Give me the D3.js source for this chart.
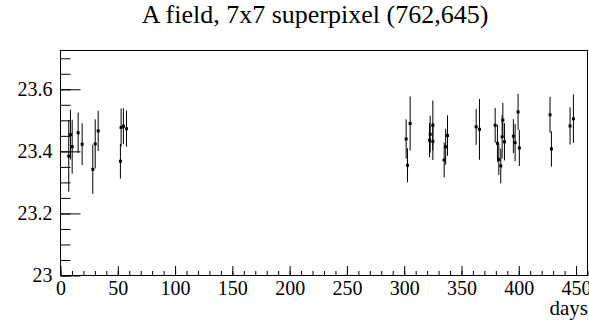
<!DOCTYPE html>
<html>
<head>
<meta charset="utf-8">
<script src="https://cdn.jsdelivr.net/npm/d3@7"></script>
<style>
  body { margin: 0; background: #fff; }
  text { font-family: "Liberation Serif", "Times New Roman", serif; fill: #000; }
</style>
</head>
<body>
<div id="chart"></div>
<script>
/* light curve, 7x7 superpixel */

const width = 589,
    height = 322,
    margin = ({ top: 50.5, right: 1.5, bottom: 46.5, left: 60.5 });

// days of each measurement
const days = [7.2, 8.7, 10.2, 15.4, 18.9, 28.2, 30.3, 32.9,
    52.3, 52.9, 54.9, 57.6,
    301.7, 302.9, 305.2, 322.1, 322.7, 325.0, 325.0,
    334.9, 336.2, 337.8, 362.8, 365.7,
    379.4, 381.4, 382.6, 384.3, 385.5, 386.1, 387.5,
    395.3, 396.8, 399.4, 400.5,
    427.3, 428.5, 444.8, 447.7];

// measured value
const values = [23.385, 23.454, 23.415, 23.460, 23.423, 23.342, 23.424, 23.466,
    23.368, 23.477, 23.481, 23.473,
    23.440, 23.355, 23.490, 23.436, 23.455, 23.484, 23.432,
    23.372, 23.415, 23.451, 23.479, 23.471,
    23.484, 23.426, 23.374, 23.353, 23.447, 23.501, 23.431,
    23.449, 23.428, 23.527, 23.411,
    23.518, 23.408, 23.482, 23.505];

// error bar half length
const errors = [0.115, 0.080, 0.087, 0.065, 0.067, 0.079, 0.079, 0.065,
    0.056, 0.061, 0.058, 0.058,
    0.063, 0.055, 0.087, 0.055, 0.060, 0.080, 0.060,
    0.056, 0.058, 0.065, 0.058, 0.098,
    0.056, 0.060, 0.050, 0.056, 0.070, 0.055, 0.060,
    0.055, 0.060, 0.058, 0.058,
    0.058, 0.057, 0.060, 0.078];

const xTicks = [0, 50, 100, 150, 200, 250, 300, 350, 400, 450];
const yTicks = [23, 23.2, 23.4, 23.6];

const title = "A field, 7x7 superpixel (762,645)",
    xLabel = "days";

const serif = '"Liberation Serif", "Times New Roman", serif';

const data = days.map((d, i) => ({ day: d, val: values[i], err: errors[i] }));

const svg = d3.select("#chart")
    .append("svg")
    .attr("width", width)
    .attr("height", height);

let x = d3.scaleLinear()
    .domain([0, 460])
    .range([margin.left, width - margin.right]);

let y = d3.scaleLinear()
    .domain([23, 23.725])
    .range([height - margin.bottom, margin.top]);

// frame
svg.append("rect")
    .attr("x", margin.left)
    .attr("y", margin.top)
    .attr("width", width - margin.right - margin.left)
    .attr("height", height - margin.bottom - margin.top)
    .attr("fill", "none")
    .attr("stroke", "#000");

// x axis, ticks pointing up into the frame
svg.append("g")
    .attr("transform", `translate(0,${height - margin.bottom})`)
    .call(d3.axisBottom(x).tickValues(d3.range(0, 461, 10)).tickSizeInner(-4.5).tickSizeOuter(0).tickFormat(""))
    .call(g => g.select(".domain").remove());

svg.append("g")
    .attr("transform", `translate(0,${height - margin.bottom})`)
    .call(d3.axisBottom(x).tickValues(xTicks).tickSizeInner(-9.5).tickSizeOuter(0).tickPadding(5))
    .call(g => g.select(".domain").remove())
    .call(g => g.selectAll("text").style("font-size", "20px").style("font-family", serif));

// y axis, ticks pointing right into the frame
svg.append("g")
    .attr("transform", `translate(${margin.left},0)`)
    .call(d3.axisLeft(y).tickValues(d3.range(0, 15).map(i => 23 + i * 0.05)).tickSizeInner(-10).tickSizeOuter(0).tickFormat(""))
    .call(g => g.select(".domain").remove());

svg.append("g")
    .attr("transform", `translate(${margin.left},0)`)
    .call(d3.axisLeft(y).tickValues(yTicks).tickSizeInner(-20).tickSizeOuter(0).tickPadding(8)
        .tickFormat(d => d === 23 ? "23" : d3.format(".1f")(d)))
    .call(g => g.select(".domain").remove())
    .call(g => g.selectAll("text").style("font-size", "20px").style("font-family", serif));

svg.selectAll(".tick line").attr("stroke", "#000");

// title
svg.append("text")
    .attr("x", 315)
    .attr("y", 23)
    .attr("text-anchor", "middle")
    .style("font-size", "26px")
    .style("font-family", serif)
    .text(title);

// x label
svg.append("text")
    .attr("x", width - 1)
    .attr("y", 315)
    .attr("text-anchor", "end")
    .style("font-size", "21px")
    .style("font-family", serif)
    .text(xLabel);

// error bars
svg.selectAll(".err")
    .data(data)
    .enter().append("line")
      .attr("class", "err")
      .attr("x1", d => x(d.day))
      .attr("x2", d => x(d.day))
      .attr("y1", d => y(d.val - d.err))
      .attr("y2", d => y(d.val + d.err))
      .attr("stroke", "#000")
      .attr("stroke-width", 1);

// points
svg.selectAll(".dot")
    .data(data)
    .enter().append("rect")
      .attr("class", "dot")
      .attr("x", d => x(d.day) - 1.5)
      .attr("y", d => y(d.val) - 1.5)
      .attr("width", 3)
      .attr("height", 3)
      .attr("fill", "#000");
</script>
</body>
</html>
